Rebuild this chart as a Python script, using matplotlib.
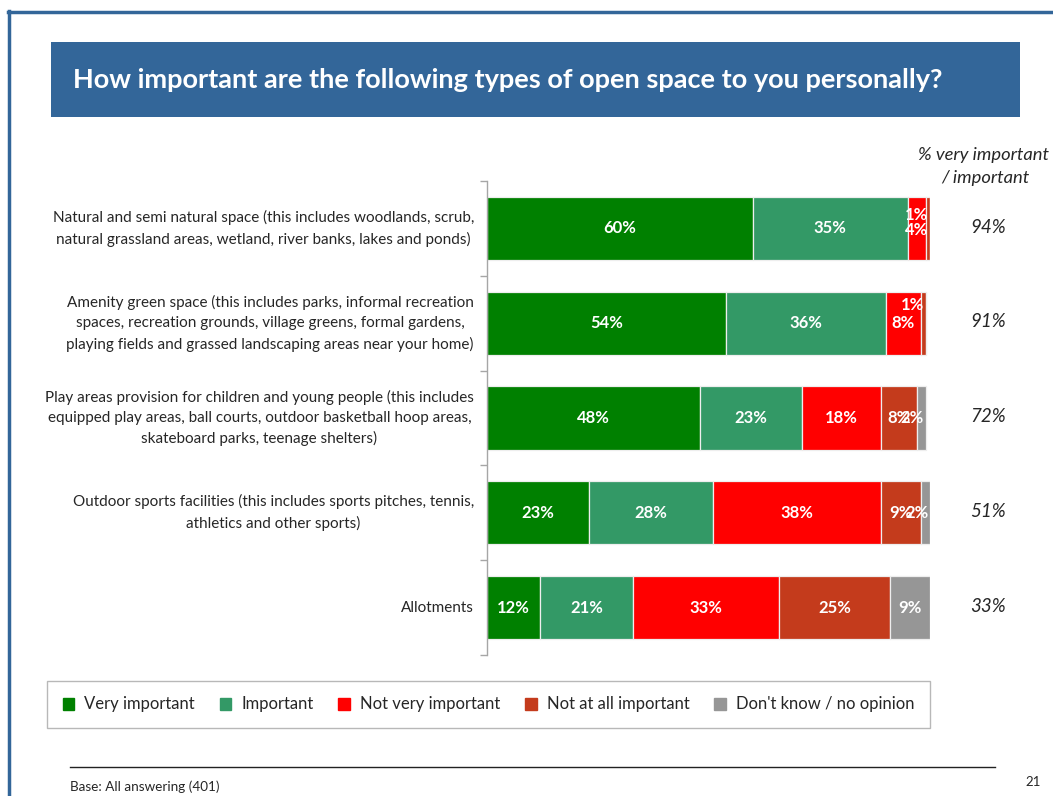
import matplotlib
matplotlib.use("Agg")
import matplotlib.pyplot as plt
from matplotlib.patches import Rectangle
from matplotlib.lines import Line2D

plt.rcParams['font.family'] = ['Lato', 'DejaVu Sans']

categories = [
    "Natural and semi natural space (this includes woodlands, scrub,\nnatural grassland areas, wetland, river banks, lakes and ponds)",
    "Amenity green space (this includes parks, informal recreation\nspaces, recreation grounds, village greens, formal gardens,\nplaying fields and grassed landscaping areas near your home)",
    "Play areas provision for children and young people (this includes\nequipped play areas, ball courts, outdoor basketball hoop areas,\nskateboard parks, teenage shelters)",
    "Outdoor sports facilities (this includes sports pitches, tennis,\nathletics and other sports)",
    "Allotments",
]
series_names = ["Very important", "Important", "Not very important",
                "Not at all important", "Don't know / no opinion"]
very_important = [60, 54, 48, 23, 12]
important = [35, 36, 23, 28, 21]
not_very_important = [4, 8, 18, 38, 33]
not_at_all_important = [1, 1, 8, 9, 25]
dont_know = [0, 0, 2, 2, 9]
net_important = [94, 91, 72, 51, 33]

colors = ["#008000", "#339966", "#FF0000", "#C43B1C", "#969696"]
series = [very_important, important, not_very_important, not_at_all_important, dont_know]

W, H = 1053, 796
fig = plt.figure(figsize=(W / 100, H / 100), dpi=100)

def fx(px):
    return px / W

def fy(py):
    return 1 - py / H

blue = "#336699"
# slide frame
fig.add_artist(Line2D([fx(9), fx(9)], [fy(11), fy(796)], color=blue, lw=2.5))
fig.add_artist(Line2D([fx(8), fx(1053)], [fy(11.5), fy(11.5)], color=blue, lw=2.5))
# title banner
fig.add_artist(Rectangle((fx(51), fy(117)), fx(1020) - fx(51), fy(42) - fy(117),
                         transform=fig.transFigure, color=blue, lw=0))
fig.text(fx(73), fy(80), "How important are the following types of open space to you personally?",
         color="white", fontsize=19.5, fontweight="bold", va="center", ha="left")

# chart axes
ax_left, ax_right, ax_top, ax_bottom = 487, 930, 181, 655
ax = fig.add_axes([fx(ax_left), fy(ax_bottom), fx(ax_right) - fx(ax_left), fy(ax_top) - fy(ax_bottom)])
n = len(categories)
ypos = list(range(n))
ax.set_ylim(n - 0.5, -0.5)
ax.set_xlim(0, 100)
bar_h = 0.665

lefts = [0] * n
for s, (vals, col) in enumerate(zip(series, colors)):
    ax.barh(ypos, vals, left=lefts, height=bar_h, color=col,
            edgecolor="#eeeeee", linewidth=0.9, label=series_names[s])
    for i, v in enumerate(vals):
        if v <= 0:
            continue
        row_end = sum(ser[i] for ser in series)
        if v <= 2:
            # thin segments: keep the label inside the bar's right end
            x = row_end - 0.4
            ha = "right"
            dy = {0: 10, 1: 13}.get(i, 0)
        else:
            x = lefts[i] + v / 2
            ha = "center"
            dy = -1.5 if (i == 0 and v < 5) else 0
        ax.annotate(f"{v}%", (x, i), xytext=(0, dy), textcoords="offset points",
                    ha=ha, va="center", color="white", fontsize=12, fontweight="bold")
    lefts = [l + v for l, v in zip(lefts, vals)]

ax.set_xticks([])
ax.set_yticks([i + 0.5 for i in range(-1, n)])
ax.set_yticklabels([])
ax.tick_params(axis="y", length=5, color="#a6a6a6", width=1)
for sp in ["top", "right", "bottom"]:
    ax.spines[sp].set_visible(False)
ax.spines["left"].set_color("#a6a6a6")
ax.spines["left"].set_linewidth(1)

for i, cat in enumerate(categories):
    ax.annotate(cat, (0, i), xytext=(-9.4, 0), textcoords="offset points",
                ha="right", va="center", multialignment="center",
                fontsize=11, color="#262626", linespacing=1.55)

# right-hand summary column
fig.text(fx(984), fy(155), "% very important", ha="center", va="center",
         fontsize=13.2, style="italic", color="#262626")
fig.text(fx(985), fy(178), "/ important", ha="center", va="center",
         fontsize=13.2, style="italic", color="#262626")
for i, v in enumerate(net_important):
    ax.annotate(f"{v}%", (1, i), xycoords=("axes fraction", "data"),
                xytext=(42, 1), textcoords="offset points",
                ha="center", va="center", fontsize=13.5, style="italic", color="#262626")

# legend
handles = [Rectangle((0, 0), 1, 1, color=c) for c in colors]
leg = fig.legend(handles, series_names, loc="center",
                 bbox_to_anchor=(fx(47), fy(727), fx(930) - fx(47), fy(682) - fy(727)),
                 ncol=5, frameon=True, fancybox=False, fontsize=12,
                 handlelength=0.7, handleheight=0.7, handletextpad=0.6,
                 columnspacing=2.0, borderpad=0.95, borderaxespad=0, mode="expand")
leg.get_frame().set_edgecolor("#a6a6a6")
leg.get_frame().set_linewidth(1)
for t in leg.get_texts():
    t.set_color("#262626")

# footer
fig.add_artist(Line2D([fx(70), fx(995)], [fy(767), fy(767)], color="#222222", lw=1))
fig.text(fx(70), fy(787), "Base: All answering (401)", ha="left", va="center",
         fontsize=9.7, color="#262626")
fig.text(fx(1025), fy(782), "21", ha="left", va="center", fontsize=9.5, color="#262626")

fig.savefig("out.png", dpi=100)
